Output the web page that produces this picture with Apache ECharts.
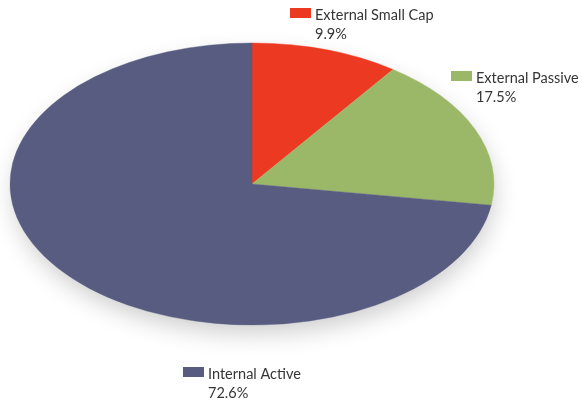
<!DOCTYPE html>
<html>
<head>
<meta charset="utf-8">
<script src="https://cdn.jsdelivr.net/npm/echarts@6/dist/echarts.min.js"></script>
<style>
  html, body { margin: 0; padding: 0; background: #ffffff; }
  #chart { width: 579px; height: 402px; }
</style>
</head>
<body>
<div id="chart"></div>
<script>
// Allocation shares, in drawing order (clockwise from 12 o'clock)
const categories = ['External Small Cap', 'External Passive', 'Internal Active'];
const shares = [9.9, 17.5, 72.6];
const colors = ['#EC3A22', '#9BB768', '#585C80'];

// Ellipse geometry of the tilted pie
const CX = 252, CY = 184, RX = 242, RY = 141;

// Label anchors (marker top-left) for each slice
const labelPos = [[290, 8], [451, 71], [183, 367]];

const total = shares.reduce((a, b) => a + b, 0);
const starts = [];
let acc = 0;
shares.forEach(v => { starts.push(acc); acc += v; });

const chart = echarts.init(document.getElementById('chart'), null, { renderer: 'canvas' });

const labelFont = '14.5px Lato, "Open Sans", sans-serif';
const graphics = [{
  type: 'ellipse',
  z: -1,
  shape: { cx: CX, cy: CY, rx: RX - 2, ry: RY - 2 },
  style: {
    fill: '#ffffff',
    shadowColor: 'rgba(0,0,0,0.2)',
    shadowBlur: 24,
    shadowOffsetX: 2,
    shadowOffsetY: 10
  }
}];
categories.forEach((name, i) => {
  const [x, y] = labelPos[i];
  graphics.push({
    type: 'rect',
    shape: { x: x, y: y, width: 21, height: 10 },
    style: { fill: colors[i] }
  });
  graphics.push({
    type: 'text',
    x: x + 25, y: y + 7.5,
    style: { text: name, font: labelFont, fill: '#353535', verticalAlign: 'middle' }
  });
  graphics.push({
    type: 'text',
    x: x + 25, y: y + 26.5,
    style: { text: shares[i].toFixed(1) + '%', font: labelFont, fill: '#353535', verticalAlign: 'middle' }
  });
});

chart.setOption({
  backgroundColor: '#ffffff',
  animation: false,
  series: [{
    type: 'custom',
    coordinateSystem: 'none',
    data: shares.map((v, i) => ({ name: categories[i], value: [v, i] })),
    renderItem: function (params, api) {
      const i = api.value(1);
      const v = api.value(0);
      const a0 = -Math.PI / 2 + starts[i] / total * Math.PI * 2;
      const a1 = a0 + v / total * Math.PI * 2;
      return {
        type: 'sector',
        x: CX, y: CY,
        scaleX: 1, scaleY: RY / RX,
        shape: { cx: 0, cy: 0, r0: 0, r: RX, startAngle: a0, endAngle: a1, clockwise: true },
        style: { fill: colors[i], stroke: colors[i], lineWidth: 0.5 }
      };
    }
  }],
  graphic: graphics
});
</script>
</body>
</html>
